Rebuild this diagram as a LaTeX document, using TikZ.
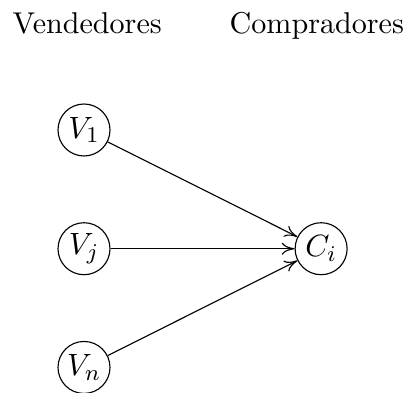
\documentclass[tikz,border=0pt]{standalone}
\usepackage{amsmath}
\usepackage{tikz}
\usetikzlibrary{arrows.meta, positioning}
\tikzset{
    agent/.style={circle, draw=black, thin, minimum size=0.65cm, inner sep=0pt, font=\fontsize{10.8}{13}\selectfont},
    title/.style={font=\fontsize{10.7}{13}\selectfont, anchor=base},
    arrow/.style={-{To[length=1.6mm, width=1.5mm]}, thin, black},
}

\begin{document}
\begin{tikzpicture}[
    node distance=0.82cm
]
\useasboundingbox (0,0) rectangle (5.1,-4.9125);

\node[title] (sellers) at (1.09,-0.415) {Vendedores};
\node[title] (buyers) at (3.96,-0.415) {Compradores};

\node[agent] (v1) at (1.05,-1.625) {$V_1$};
\node[agent, below=of v1] (vj) {$V_j$};
\node[agent, below=of vj] (vn) {$V_n$};
\node[agent, right=2.3cm of vj] (ci) {$C_i$};

\draw[arrow] (v1) -- (ci);
\draw[arrow] (vj) -- (ci);
\draw[arrow] (vn) -- (ci);

\end{tikzpicture}
\end{document}
